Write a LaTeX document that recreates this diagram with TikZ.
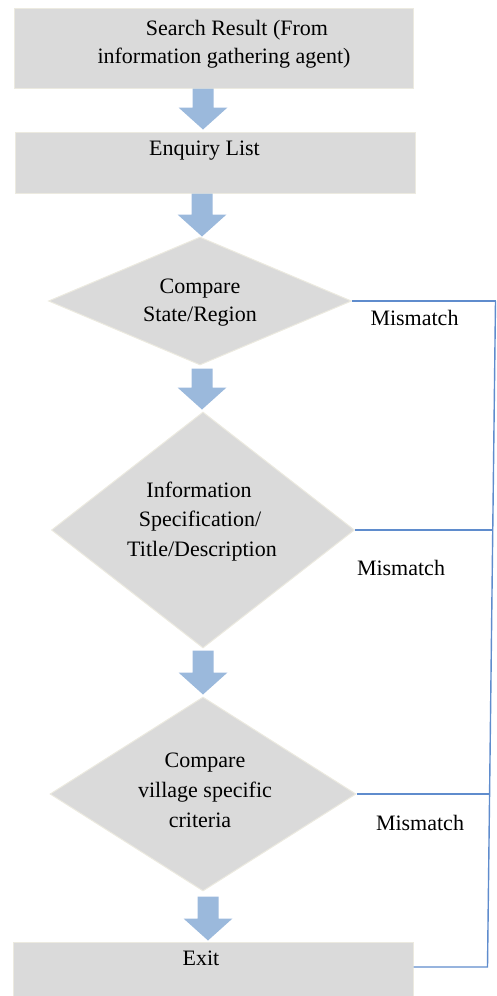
\documentclass[tikz,border=0pt]{standalone}
\usepackage{fontspec}
\setmainfont{Liberation Serif}
\usetikzlibrary{shapes.geometric,calc}
\definecolor{boxgray}{RGB}{218,218,218}
\definecolor{boxedge}{RGB}{236,234,224}
\definecolor{arrowblue}{RGB}{155,185,220}
\definecolor{lineblue}{RGB}{95,140,205}
\begin{document}
\begin{tikzpicture}[x=1pt,y=-1pt,
  box/.style={rectangle, fill=boxgray, draw=boxedge, line width=1pt, inner sep=0pt},
  dec/.style={diamond, fill=boxgray, draw=boxedge, line width=1pt, inner sep=0pt},
  lbl/.style={anchor=base, inner sep=0pt, font=\fontsize{22}{26}\selectfont},
  link/.style={draw=lineblue, line width=1.4pt},
  blockarrow/.style={fill=arrowblue, draw=none,
    to path={let \p1=(\tikztostart), \p2=(\tikztotarget) in
      (\x2-10.5pt,\y1) -- (\x2+10.5pt,\y1) -- (\x2+10.5pt,\y2+22pt) -- (\x2+24.5pt,\y2+22pt)
      -- (\x2,\y2) -- (\x2-24.5pt,\y2+22pt) -- (\x2-10.5pt,\y2+22pt) -- cycle}}]
\useasboundingbox (0,0) rectangle (496,996);
% shapes
\node[box, minimum width=399, minimum height=80] (b1) at (213.5,48) {};
\node[box, minimum width=400, minimum height=61] (b2) at (215,162.5) {};
\node[dec, minimum width=303, minimum height=128] (d1) at (200,301) {};
\node[dec, minimum width=303, minimum height=236] (d2) at (203,530) {};
\node[dec, minimum width=306, minimum height=194] (d3) at (203,794) {};
\node[box, minimum width=400, minimum height=56] (ex) at (213,970) {};
% texts
\node[lbl] (t1a) at (237,35) {Search Result (From};
\node[lbl] (t1b) at (224,63) {information gathering agent)};
\node[lbl] (t2) at (204.5,155) {Enquiry List};
\node[lbl] (t3a) at (200,293) {Compare};
\node[lbl] (t3b) at (200,321) {State/Region};
\node[lbl] (t4a) at (199,497) {Information};
\node[lbl] (t4b) at (200,526) {Specification/};
\node[lbl] (t4c) at (202,556) {Title/Description};
\node[lbl] (t5a) at (205,767) {Compare};
\node[lbl] (t5b) at (205,797) {village specific};
\node[lbl] (t5c) at (200,827) {criteria};
\node[lbl] (t6) at (201,965) {Exit};
% block arrows
\path[blockarrow] (b1.south) to ($(b2.north -| d1.north)+(3,-2)$);
\path[blockarrow] (b2.south) to ($(d1.north)+(2,0)$);
\path[blockarrow] ($(d1.south)+(0,3)$) to ($(d2.north)+(-1,-2)$);
\path[blockarrow] ($(d2.south)+(0,2)$) to ($(d3.north)+(0,-2)$);
\path[blockarrow] ($(d3.south)+(0,5)$) to ($(ex.north)+(-5,-1)$);
% mismatch links
\coordinate (r1) at (495.5,301);
\coordinate (r2) at (493.3,530);
\coordinate (r3) at (489.5,794);
\coordinate (r4) at (487.5,967);
\draw[link] (d1.east) -- (r1);
\draw[link] (d2.east) -- (r2);
\draw[link] (d3.east) -- (r3);
\draw[link] (ex.east |- r4) -- (r4) -- (r1);
\node[lbl] (m1) at (414.5,325) {Mismatch};
\node[lbl] (m2) at (401,575) {Mismatch};
\node[lbl] (m3) at (420,830) {Mismatch};
\end{tikzpicture}
\end{document}
